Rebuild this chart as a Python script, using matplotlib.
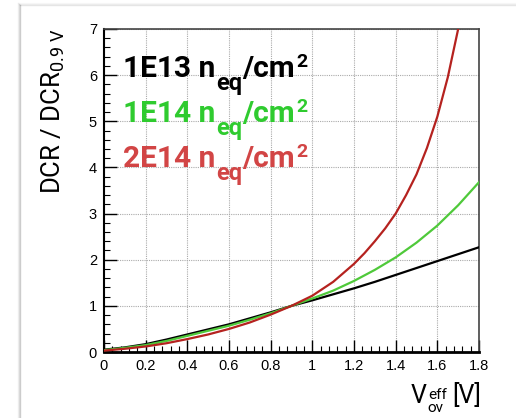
import matplotlib
matplotlib.use("Agg")
import matplotlib.pyplot as plt
from matplotlib.ticker import MultipleLocator, FuncFormatter
from matplotlib.lines import Line2D
from matplotlib.transforms import IdentityTransform

plt.rcParams["mathtext.fontset"] = "custom"
plt.rcParams["mathtext.rm"] = "Roboto"
plt.rcParams["mathtext.it"] = "Roboto:italic"
plt.rcParams["mathtext.bf"] = "Roboto:bold"

x = [0.0, 0.1, 0.2, 0.3, 0.4, 0.5, 0.6, 0.7, 0.8, 0.9, 1.0, 1.1, 1.2, 1.3, 1.4, 1.5, 1.6, 1.7, 1.8]
dcr_1e13 = [0.05, 0.10, 0.17, 0.27, 0.38, 0.49, 0.60, 0.73, 0.86, 1.00, 1.12, 1.25, 1.38, 1.52, 1.67, 1.82, 1.97, 2.12, 2.27]
dcr_1e14 = [0.04, 0.09, 0.15, 0.24, 0.35, 0.46, 0.57, 0.70, 0.84, 1.00, 1.16, 1.33, 1.54, 1.78, 2.05, 2.37, 2.74, 3.18, 3.68]
x_red = [0.0, 0.1, 0.2, 0.3, 0.4, 0.5, 0.6, 0.7, 0.8, 0.9, 1.0, 1.1, 1.2, 1.25, 1.3, 1.35, 1.4, 1.45, 1.5,
         1.55, 1.6, 1.65, 1.7, 1.75]
dcr_2e14 = [0.03, 0.07, 0.12, 0.19, 0.28, 0.38, 0.50, 0.64, 0.81, 1.00, 1.22, 1.52, 1.91, 2.14, 2.40, 2.68,
            3.00, 3.40, 3.85, 4.42, 5.10, 5.95, 7.00, 8.20]

labels = ["1E13", "1E14", "2E14"]
xticks = [0, 0.2, 0.4, 0.6, 0.8, 1.0, 1.2, 1.4, 1.6, 1.8]
yticks = [0, 1, 2, 3, 4, 5, 6, 7]

W, H = 516, 418
fig = plt.figure(figsize=(W / 100, H / 100), dpi=100)
fig.patch.set_facecolor("white")

# card shadow
for i, a in enumerate([0.18, 0.10, 0.05]):
    fig.add_artist(Line2D([(20 - i) / W, (20 - i) / W], [0, 1 - (5 - i) / H],
                          transform=fig.transFigure, color="#000000", alpha=a, lw=1))
    fig.add_artist(Line2D([(20 - i) / W, 1], [1 - (5 - i) / H, 1 - (5 - i) / H],
                          transform=fig.transFigure, color="#000000", alpha=a * 0.5, lw=1))

ax = fig.add_axes([104 / W, 1 - 352 / H, (479 - 104) / W, (352 - 29) / H])

ax.plot(x, dcr_1e13, color="black", lw=1.6, zorder=3)
ax.plot(x, dcr_1e14, color="#4fc93a", lw=1.6, zorder=3)
ax.plot(x_red, dcr_2e14, color="#b5221f", lw=1.6, zorder=4)

ax.set_xlim(0, 1.8)
ax.set_ylim(0, 7)
ax.set_xticks(xticks)
ax.set_yticks(yticks)
ax.xaxis.set_minor_locator(MultipleLocator(0.04))
ax.yaxis.set_minor_locator(MultipleLocator(0.2))
ax.xaxis.set_major_formatter(FuncFormatter(lambda v, p: "%g" % round(v, 2)))
ax.grid(True, which="major", color="#aaaaaa", ls=(0, (1, 1)), lw=0.8)

ax.tick_params(which="both", direction="in", top=False, right=False)
ax.tick_params(which="major", length=9, width=1, labelsize=10.5, pad=5)
ax.tick_params(which="minor", length=4.5, width=0.8)
for lab in ax.get_xticklabels() + ax.get_yticklabels():
    lab.set_family(["Liberation Sans", "DejaVu Sans"])
ax.spines["bottom"].set_linewidth(2.0)
ax.spines["left"].set_linewidth(1.5)
for s in ["top", "right"]:
    ax.spines[s].set_linewidth(1.2)
    ax.spines[s].set_color("#444444")

renderer = fig.canvas.get_renderer()


def piece(xp, yb, s, size, color, weight="normal"):
    t = fig.text(xp, H - yb, s, transform=IdentityTransform(), fontsize=size, color=color,
                 fontweight=weight, family=["Roboto", "DejaVu Sans"], ha="left", va="baseline")
    return t.get_window_extent(renderer).x1


# annotations
rows = [(labels[0], "black", 77), (labels[1], "#2fcb2f", 122), (labels[2], "#d24545", 167)]
for lab, col, yb in rows:
    xe = piece(123, yb, lab + " n", 21.5, col, "bold")
    xe = piece(xe + 1, yb + 13, "eq", 17, col, "bold")
    xe = piece(xe, yb, "/cm", 21.5, col, "bold")
    piece(xe + 1, yb - 10, "2", 14, col, "bold")

# axis titles
fig.text(40 / W, 1 - 28 / H, r"DCR / DCR$_{\mathregular{0.9\ V}}$", rotation=90,
         fontsize=18.5, family=["Roboto", "DejaVu Sans"], ha="left", va="top")
xe = piece(411, 403, "V", 18, "black")
xe2 = piece(xe + 1, 399, "eff", 11, "black")
piece(xe + 1, 412, "ov", 11, "black")
piece(max(xe2, xe) + 5, 403, "[V]", 18, "black")

fig.savefig("out.png", dpi=100)
